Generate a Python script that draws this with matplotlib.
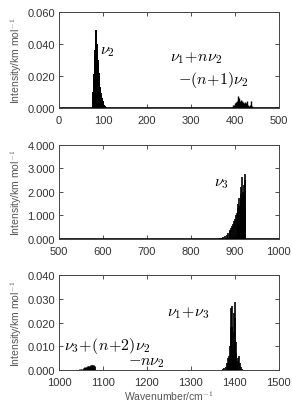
import matplotlib
matplotlib.use('Agg')
import matplotlib.pyplot as plt

# --- panel 1: nu2 band and hot band (stick positions / intensities)
nu2_pos = [77, 78, 79, 80, 81, 82, 83, 84, 85, 86, 87, 88, 89, 90, 91, 92,
           93, 94, 95, 96, 97, 98, 99, 100, 101, 102, 104, 106, 108]
nu2_int = [0.004, 0.010, 0.018, 0.021, 0.024, 0.030, 0.036, 0.049, 0.041, 0.040,
           0.034, 0.030, 0.026, 0.022, 0.019, 0.016, 0.013, 0.011, 0.009, 0.007,
           0.006, 0.005, 0.004, 0.003, 0.0025, 0.002, 0.0012, 0.0008, 0.0004]
hot_pos = [394, 396, 398, 400, 402, 404, 406, 408, 410, 412, 414, 416, 418,
           420, 422, 424, 426, 428, 430, 432, 434, 436, 438, 440]
hot_int = [0.0008, 0.0015, 0.002, 0.003, 0.0035, 0.004, 0.005, 0.0075, 0.006,
           0.0045, 0.005, 0.004, 0.0035, 0.003, 0.0025, 0.0035, 0.003, 0.004,
           0.0015, 0.001, 0.002, 0.004, 0.001, 0.0005]

# --- panel 2: nu3 band
nu3_pos = [866, 870, 874, 878, 882, 885, 888, 890, 892, 894, 896, 898, 900,
           902, 904, 906, 908, 910, 911, 912, 913, 914, 915, 916, 917, 918,
           919, 920, 921, 922, 923, 924]
nu3_int = [0.02, 0.05, 0.08, 0.12, 0.18, 0.24, 0.32, 0.38, 0.45, 0.55, 0.65,
           0.75, 0.85, 1.0, 1.1, 1.3, 1.5, 1.75, 1.3, 1.4, 1.6, 1.9, 2.2, 2.62,
           1.7, 1.8, 2.0, 2.3, 1.9, 2.5, 2.76, 1.2]

# --- panel 3: combination bands
comb_pos = [1048, 1052, 1056, 1060, 1063, 1066, 1069, 1072, 1075, 1078, 1080]
comb_int = [0.0003, 0.0006, 0.0009, 0.0012, 0.0015, 0.0017, 0.0019, 0.0021,
            0.0022, 0.0023, 0.0018]
n13_pos = [1372, 1376, 1380, 1382, 1384, 1386, 1388, 1390, 1391, 1392, 1393,
           1394, 1395, 1396, 1397, 1398, 1399, 1400, 1401, 1402, 1403, 1404,
           1406, 1408, 1410, 1412, 1414, 1416]
n13_int = [0.0003, 0.0008, 0.0015, 0.003, 0.005, 0.006, 0.004, 0.010, 0.018,
           0.026, 0.027, 0.018, 0.008, 0.006, 0.009, 0.016, 0.024, 0.0285,
           0.022, 0.012, 0.007, 0.004, 0.003, 0.005, 0.006, 0.003, 0.0012,
           0.0004]

yticks1 = [0.0, 0.02, 0.04, 0.06]
yticks2 = [0.0, 1.0, 2.0, 3.0, 4.0]
yticks3 = [0.0, 0.01, 0.02, 0.03, 0.04]

plt.rcParams['mathtext.fontset'] = 'cm'
plt.rcParams['font.family'] = ['Liberation Sans', 'DejaVu Sans']
txt_col = '#333333'
fs_ann = 11.5

fig = plt.figure(figsize=(2.92, 4.06), dpi=100)
ax1 = fig.add_axes([0.202, 0.732, 0.753, 0.236])
ax2 = fig.add_axes([0.202, 0.409, 0.753, 0.232])
ax3 = fig.add_axes([0.202, 0.086, 0.753, 0.234])


def style(ax, xlim, yticks):
    ax.set_xlim(*xlim)
    ax.set_ylim(yticks[0], yticks[-1])
    ax.set_yticks(yticks)
    ax.set_yticklabels(['%.3f' % v for v in yticks])
    ax.tick_params(direction='in', top=True, right=True, labelsize=8,
                   length=3, width=0.6, colors=txt_col, pad=3)
    ax.tick_params(axis='x', pad=5)
    for s in ax.spines.values():
        s.set_linewidth(0.7)
        s.set_color('#444444')
    ax.set_ylabel('Intensity/km mol$^{\\mathsf{-1}}$', fontsize=7.5,
                  color='#555555', labelpad=2)


ax1.vlines(nu2_pos, 0, nu2_int, color='black', lw=1.4)
ax1.vlines(hot_pos, 0, hot_int, color='black', lw=1.0)
ax1.plot([0, 500], [0.0003, 0.0003], color='black', lw=0.6)
style(ax1, (0, 500), yticks1)
ax1.set_xticks([0, 100, 200, 300, 400, 500])
ax1.text(110, 0.036, r'$\nu_2$', fontsize=fs_ann, ha='center', va='center')
ax1.text(313, 0.032, r'$\nu_1\!+\!n\nu_2$', fontsize=fs_ann, ha='center', va='center')
ax1.text(352, 0.018, r'$-(n\!+\!1)\nu_2$', fontsize=fs_ann, ha='center', va='center')

ax2.vlines(nu3_pos, 0, nu3_int, color='black', lw=1.2)
ax2.plot([500, 1000], [0.02, 0.02], color='black', lw=0.6)
style(ax2, (500, 1000), yticks2)
ax2.set_xticks([500, 600, 700, 800, 900, 1000])
ax2.text(869, 2.4, r'$\nu_3$', fontsize=fs_ann, ha='center', va='center')

ax3.vlines(comb_pos, 0, comb_int, color='black', lw=2.0)
ax3.vlines(n13_pos, 0, n13_int, color='black', lw=1.2)
ax3.plot([1000, 1500], [0.0002, 0.0002], color='black', lw=0.6)
style(ax3, (1000, 1500), yticks3)
ax3.set_xticks([1000, 1100, 1200, 1300, 1400, 1500])
ax3.text(1295, 0.0244, r'$\nu_1\!+\!\nu_3$', fontsize=fs_ann, ha='center', va='center')
ax3.text(1110, 0.0106, r'$\nu_3\!+\!(n\!+\!2)\nu_2$', fontsize=fs_ann, ha='center', va='center')
ax3.text(1200, 0.0036, r'$-n\nu_2$', fontsize=fs_ann, ha='center', va='center')
ax3.set_xlabel('Wavenumber/cm$^{\\mathsf{-1}}$', fontsize=7.5, color='#555555', labelpad=1)

fig.savefig('out.png', dpi=100)
